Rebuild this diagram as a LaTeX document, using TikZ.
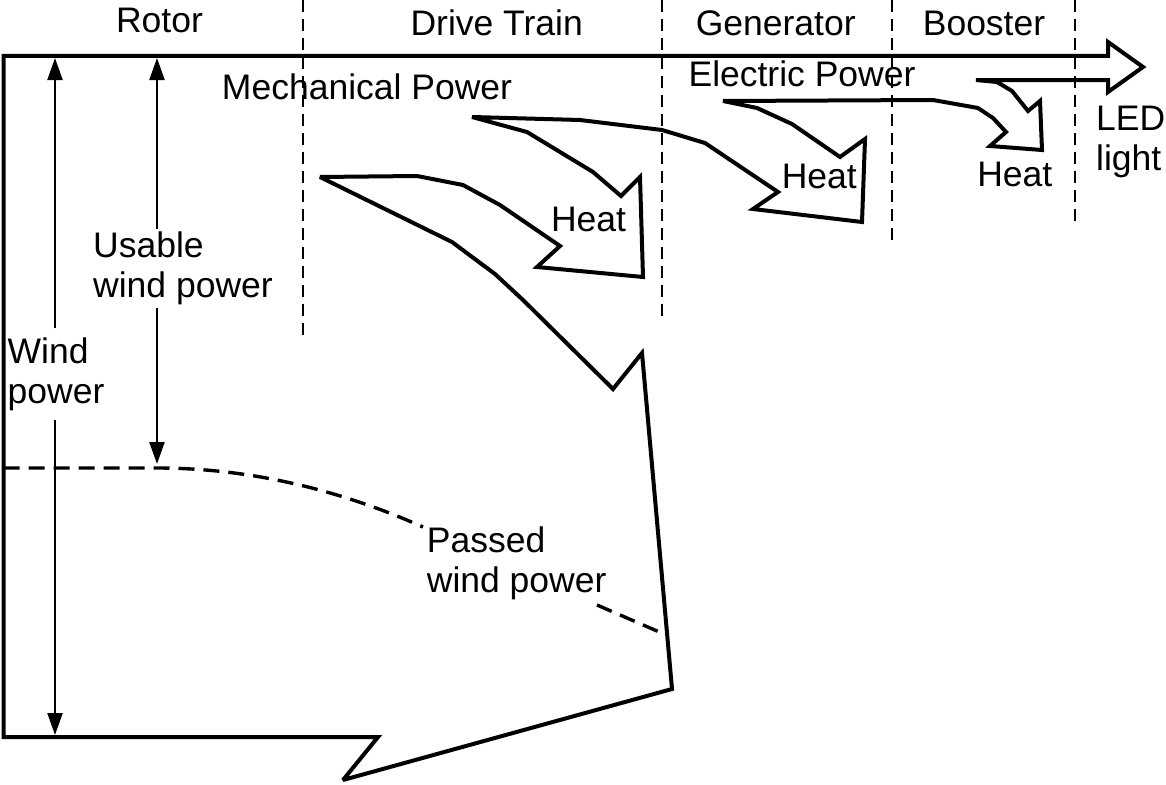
\documentclass[tikz,border=0pt]{standalone}
\usepackage{fontspec}
\setmainfont{Liberation Sans}
\usetikzlibrary{arrows.meta}
\begin{document}
\begin{tikzpicture}[x=1pt,y=-1pt,
  flow/.style={line width=4pt, line join=miter, miter limit=3},
  sepline/.style={line width=1.8pt, dash pattern=on 12pt off 7pt},
  dim/.style={line width=2.2pt, -{Triangle[length=22pt,width=15pt]}},
  passed/.style={line width=3.4pt, dash pattern=on 16pt off 9pt},
  lbl/.style={font=\fontsize{35.5}{40}\selectfont, inner sep=0pt},
]
\useasboundingbox (0,0) rectangle (1166,784);

% section separators
\draw[sepline] (303,0) -- (303,338);
\draw[sepline] (662,0) -- (662,318);
\draw[sepline] (892,0) -- (892,245);
\draw[sepline] (1075,0) -- (1075,227);

% main flow outline
\draw[flow] (3.5,56) -- (1108,56) -- (1108,42) -- (1143,67) -- (1108,92) -- (1108,80)
  -- (976,80) -- (997,82) -- (1012,91) -- (1028,111) -- (1040,101) -- (1042,150)
  -- (990,146) -- (1006,132) -- (993,118) -- (978,108) -- (933,100) -- (723,101)
  -- (757,108) -- (792,124) -- (840,157) -- (865,139) -- (862,222) -- (753,209)
  -- (778,192) -- (705,143) -- (662,130) -- (580,120) -- (472,117)
  -- (527,132) -- (593,172) -- (621,196) -- (640,177) -- (643,277) -- (537,267)
  -- (560,246) -- (500,205) -- (463,185) -- (417,176) -- (320,177)
  -- (452,242) -- (495,274) -- (523,300) -- (613,389) -- (642,353) -- (672,689)
  -- (343,780) -- (378,737) -- (3.5,737) -- cycle;

% labels
\node[lbl, anchor=base] (rotor) at (159.5,33) {Rotor};
\node[lbl, anchor=base] (drive) at (496.7,35.5) {Drive Train};
\node[lbl, anchor=base] (gen) at (775.7,35.5) {Generator};
\node[lbl, anchor=base] (boost) at (984,35.5) {Booster};
\node[lbl, anchor=base] (mech) at (367,99) {Mechanical Power};
\node[lbl, anchor=base] (elec) at (802,86.7) {Electric Power};
\node[lbl, anchor=base] (heatA) at (588.5,231.7) {Heat};
\node[lbl, anchor=base] (heatB) at (819.3,188.3) {Heat};
\node[lbl, anchor=base] (heatC) at (1014.8,186) {Heat};
\node[lbl, align=left, anchor=west] (led) at (1096,142) {LED\\light};
\node[lbl, align=left, anchor=west] (pwp) at (426.7,563) {Passed\\wind power};

% wind power dimension arrows
\coordinate (wtop) at (55,58);
\coordinate (wbot) at (55,735);
\coordinate (utop) at (157,58);
\coordinate (ubot) at (157,464);
\node[lbl, align=left, inner ysep=9pt] (wp) at (56,374) {Wind\\power};
\draw[dim] (wtop|-wp.north) -- (wtop);
\draw[dim] (wbot|-wp.south) -- (wbot);

\node[lbl, align=left, inner ysep=3pt] (uwp) at (183,268.5) {Usable\\wind power};
\draw[dim] (utop|-uwp.north) -- (utop);
\draw[dim] (ubot|-uwp.south) -- (ubot);

% passed wind power boundary
\coordinate (pA) at (3.5,468);
\coordinate (pB) at (157,468);
\coordinate (pC) at (423,527);
\coordinate (pD) at (597,605);
\coordinate (pE) at (664,634);
\draw[passed] (pA) -- (pB) .. controls (250,468) and (340,490) .. (pC);
\draw[passed] (pD) -- (pE);
\end{tikzpicture}
\end{document}
